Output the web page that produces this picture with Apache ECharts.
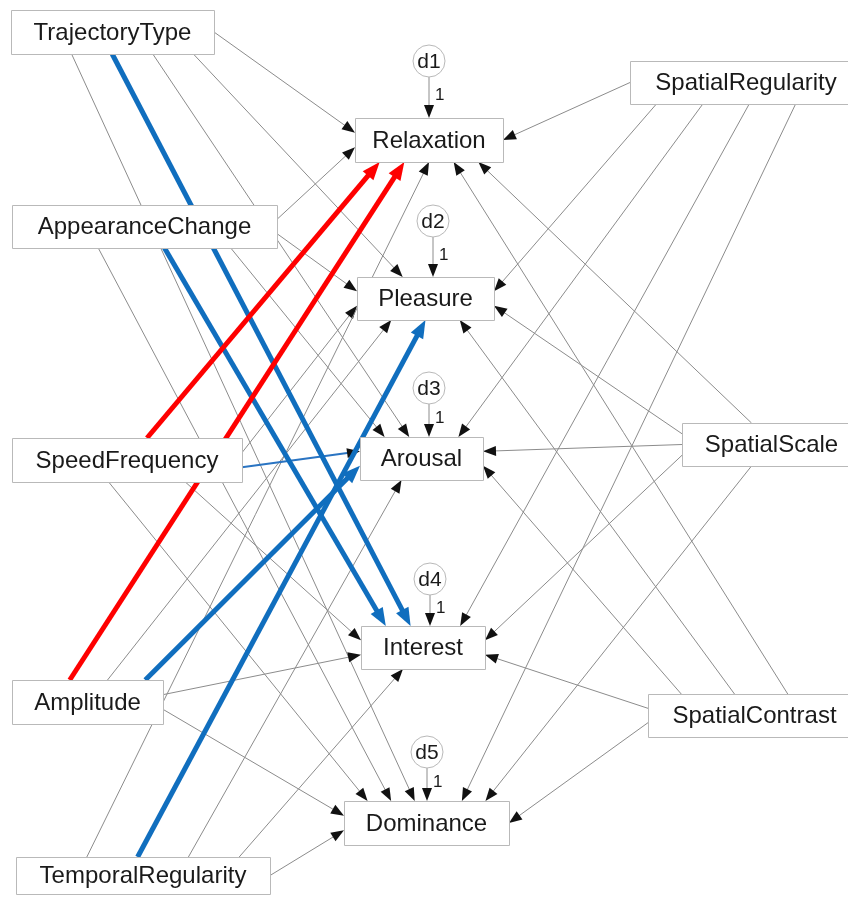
<!DOCTYPE html>
<html>
<head>
<meta charset="utf-8">
<script src="https://cdn.jsdelivr.net/npm/echarts@6/dist/echarts.min.js"></script>
<style>
html,body{margin:0;padding:0;background:#fff}
#chart{width:848px;height:897px}
</style>
</head>
<body>
<div id="chart"></div>
<script>
// observed variables
var exogenous = ['TrajectoryType', 'AppearanceChange', 'SpeedFrequency', 'Amplitude',
	'TemporalRegularity', 'SpatialRegularity', 'SpatialScale', 'SpatialContrast'];
var endogenous = ['Relaxation', 'Pleasure', 'Arousal', 'Interest', 'Dominance'];
var disturbances = ['d1', 'd2', 'd3', 'd4', 'd5'];
var disturbanceWeights = ['1', '1', '1', '1', '1'];

// highlighted paths (everything else is a plain grey path)
var redPaths = [['SpeedFrequency', 'Relaxation'], ['Amplitude', 'Relaxation']];
var bluePaths = [['TrajectoryType', 'Interest'], ['AppearanceChange', 'Interest'],
	['Amplitude', 'Arousal'], ['TemporalRegularity', 'Pleasure']];
var thinBluePaths = [['SpeedFrequency', 'Arousal']];

// layout: box centre x, y, width, height (px)
var boxLayout = {
	TrajectoryType: [112.5, 32, 203, 44],
	AppearanceChange: [144.5, 226.5, 265, 43],
	SpeedFrequency: [127, 460, 230, 44],
	Amplitude: [87.5, 702, 151, 44],
	TemporalRegularity: [143, 875.5, 254, 37],
	SpatialRegularity: [746, 82.5, 232, 43],
	SpatialScale: [771.5, 444.5, 179, 43],
	SpatialContrast: [754.5, 715.5, 213, 43],
	Relaxation: [429, 140, 148, 44],
	Pleasure: [425.5, 298.5, 137, 43],
	Arousal: [421.5, 458.5, 123, 43],
	Interest: [423, 647.5, 124, 43],
	Dominance: [426.5, 823, 165, 44]
};
var circleLayout = {
	d1: [429, 61], d2: [433, 221], d3: [429, 388], d4: [430, 579], d5: [427, 752]
};
var circleR = 16;
var PORT_SHIFT = 20; // ports on a side all facing one way lean that way

var kindStyle = [
	{ color: '#8c8c8c', width: 1, head: '#111', len: 13, wid: 10 },   // grey
	{ color: '#2a74c2', width: 2, head: '#111', len: 13, wid: 10 },   // thin blue
	{ color: '#106ebe', width: 5, head: '#106ebe', len: 18, wid: 14 }, // blue
	{ color: '#fe0000', width: 5, head: '#fe0000', len: 18, wid: 14 }  // red
];

function inList(list, s, t) {
	return list.some(function (p) { return p[0] === s && p[1] === t; });
}
function kindOf(s, t) {
	if (inList(redPaths, s, t)) return 3;
	if (inList(bluePaths, s, t)) return 2;
	if (inList(thinBluePaths, s, t)) return 1;
	return 0;
}

// which side of a box a path leaves / enters, and its order along that side
var SRC_ANGLE = 31.5, TGT_ANGLE = 38.9;
function sideOf(c, o, lim) {
	var dx = o[0] - c[0], dy = o[1] - c[1];
	var a = Math.atan2(Math.abs(dy), Math.abs(dx)) * 180 / Math.PI;
	if (a < lim) return { side: dx > 0 ? 'right' : 'left', ratio: dy / Math.abs(dx) };
	return { side: dy > 0 ? 'bottom' : 'top', ratio: dx / Math.abs(dy) };
}

var groups = {};
function addEnd(node, other, lim, obj, field, fixedX) {
	var b = boxLayout[node];
	var s = sideOf(b, other, lim);
	var k = node + '|' + s.side;
	if (!groups[k]) groups[k] = { node: node, side: s.side, items: [] };
	groups[k].items.push({ ratio: s.ratio, obj: obj, field: field, fixedX: fixedX });
}

var paths = [];
exogenous.forEach(function (s) {
	endogenous.forEach(function (t) {
		var p = { from: s, to: t, kind: kindOf(s, t) };
		paths.push(p);
		addEnd(s, boxLayout[t], SRC_ANGLE, p, 'start');
		addEnd(t, boxLayout[s], TGT_ANGLE, p, 'end');
	});
});
disturbances.forEach(function (d, i) {
	var c = circleLayout[d];
	var p = { from: d, to: endogenous[i], kind: 0, start: [c[0], c[1] + circleR] };
	paths.push(p);
	addEnd(endogenous[i], c, TGT_ANGLE, p, 'end', c[0]);
});

Object.keys(groups).forEach(function (k) {
	var g = groups[k], b = boxLayout[g.node];
	var x0 = b[0] - b[2] / 2, y0 = b[1] - b[3] / 2;
	var n = g.items.length;
	g.items.sort(function (a, c) { return a.ratio - c.ratio; });
	var allPos = g.items.every(function (it) { return it.ratio > 0; });
	var allNeg = g.items.every(function (it) { return it.ratio < 0; });
	var shift = allPos ? PORT_SHIFT : (allNeg ? -PORT_SHIFT : 0);
	g.items.forEach(function (it, i) {
		var pt;
		if (g.side === 'top' || g.side === 'bottom') {
			var x = it.fixedX !== undefined ? it.fixedX : x0 + (i + 1) * b[2] / (n + 1) + shift;
			pt = [x, g.side === 'top' ? y0 : y0 + b[3]];
		} else {
			pt = [g.side === 'left' ? x0 : x0 + b[2], y0 + (i + 1) * b[3] / (n + 1)];
		}
		it.obj[it.field] = pt;
	});
});

var edgeData = paths.slice().sort(function (a, b) { return a.kind - b.kind; })
	.map(function (p) { return [p.start[0], p.start[1], p.end[0], p.end[1], p.kind]; });

var boxNames = exogenous.concat(endogenous);
var boxData = boxNames.map(function (n) { return { name: n, value: boxLayout[n] }; });
var circleData = disturbances.map(function (d, i) {
	var c = circleLayout[d], top = boxLayout[endogenous[i]][1] - boxLayout[endogenous[i]][3] / 2;
	return { name: d, value: [c[0], c[1], (c[1] + circleR + top) / 2] };
});

var FONT = '"Liberation Sans", Arial, Helvetica, sans-serif';

var chart = echarts.init(document.getElementById('chart'));
chart.setOption({
	animation: false,
	backgroundColor: '#fff',
	grid: { left: 0, right: 0, top: 0, bottom: 0 },
	xAxis: { type: 'value', min: 0, max: 848, show: false },
	yAxis: { type: 'value', min: 0, max: 897, inverse: true, show: false },
	series: [
		{
			type: 'custom',
			coordinateSystem: 'cartesian2d',
			data: edgeData,
			z: 1,
			renderItem: function (params, api) {
				var a = api.coord([api.value(0), api.value(1)]);
				var b = api.coord([api.value(2), api.value(3)]);
				var st = kindStyle[api.value(4)];
				var dx = b[0] - a[0], dy = b[1] - a[1];
				var L = Math.sqrt(dx * dx + dy * dy), ux = dx / L, uy = dy / L;
				var bx = b[0] - ux * st.len, by = b[1] - uy * st.len;
				return {
					type: 'group',
					children: [
						{ type: 'line', shape: { x1: a[0], y1: a[1], x2: bx + ux * 2, y2: by + uy * 2 },
							style: { stroke: st.color, lineWidth: st.width } },
						{ type: 'polygon', shape: { points: [[b[0], b[1]],
							[bx - uy * st.wid / 2, by + ux * st.wid / 2],
							[bx + uy * st.wid / 2, by - ux * st.wid / 2]] },
							style: { fill: st.head } }
					]
				};
			}
		},
		{
			type: 'custom',
			coordinateSystem: 'cartesian2d',
			data: boxData,
			z: 2,
			renderItem: function (params, api) {
				var c = api.coord([api.value(0), api.value(1)]);
				var s = api.size([api.value(2), api.value(3)]);
				var w = Math.abs(s[0]), h = Math.abs(s[1]);
				return {
					type: 'group',
					children: [
						{ type: 'rect', shape: { x: Math.round(c[0] - w / 2) + 0.5, y: Math.round(c[1] - h / 2) + 0.5, width: Math.round(w), height: Math.round(h) },
							style: { fill: '#fff', stroke: '#b9b9b9', lineWidth: 1 } },
						{ type: 'text', style: { text: boxNames[params.dataIndex], x: c[0], y: c[1] + 1,
							textAlign: 'center', textVerticalAlign: 'middle', font: '24px ' + FONT, fill: '#1a1a1a' } }
					]
				};
			}
		},
		{
			type: 'custom',
			coordinateSystem: 'cartesian2d',
			data: circleData,
			z: 3,
			renderItem: function (params, api) {
				var c = api.coord([api.value(0), api.value(1)]);
				var m = api.coord([api.value(0), api.value(2)]);
				return {
					type: 'group',
					children: [
						{ type: 'circle', shape: { cx: c[0], cy: c[1], r: circleR },
							style: { fill: '#fff', stroke: '#b9b9b9', lineWidth: 1 } },
						{ type: 'text', style: { text: disturbances[params.dataIndex], x: c[0], y: c[1] + 1,
							textAlign: 'center', textVerticalAlign: 'middle', font: '21px ' + FONT, fill: '#1a1a1a' } },
						{ type: 'text', style: { text: disturbanceWeights[params.dataIndex], x: m[0] + 6, y: m[1] - 2,
							textAlign: 'left', textVerticalAlign: 'middle', font: '17px ' + FONT, fill: '#1a1a1a' } }
					]
				};
			}
		}
	]
});
</script>
</body>
</html>
